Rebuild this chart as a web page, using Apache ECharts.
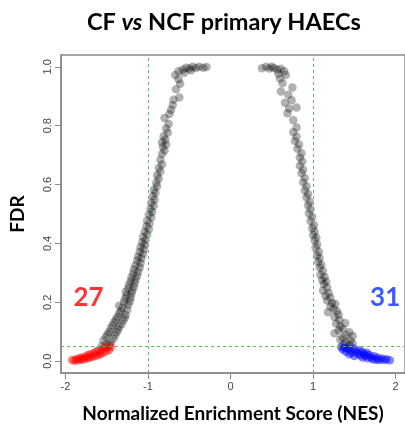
<!DOCTYPE html>
<html>
<head>
<meta charset="utf-8">
<script src="https://cdn.jsdelivr.net/npm/echarts@6/dist/echarts.min.js"></script>
<style>
  html, body { margin: 0; padding: 0; background: #fff; }
  #chart { width: 405px; height: 432px; }
</style>
</head>
<body>
<div id="chart"></div>
<script>
// NES / FDR, [NES, FDR]
var blackLeft = [
  [-1.56,0.052],[-1.50,0.058],[-1.47,0.054],[-1.54,0.07],[-1.45,0.064],[-1.51,0.082],[-1.42,0.076],[-1.49,0.092],
  [-1.40,0.088],[-1.47,0.1],[-1.38,0.098],[-1.45,0.112],[-1.36,0.108],[-1.43,0.122],[-1.35,0.118],
  [-1.41,0.132],[-1.32,0.126],[-1.39,0.142],[-1.30,0.138],[-1.37,0.15],[-1.28,0.148],[-1.35,0.162],[-1.27,0.158],
  [-1.33,0.17],[-1.25,0.175],[-1.31,0.182],[-1.35,0.188],[-1.24,0.192],[-1.29,0.2],[-1.22,0.204],
  [-1.28,0.212],[-1.21,0.216],[-1.26,0.224],[-1.20,0.23],[-1.27,0.236],[-1.19,0.24],[-1.24,0.248],[-1.17,0.252],
  [-1.23,0.26],[-1.16,0.266],[-1.21,0.272],[-1.15,0.278],[-1.20,0.285],[-1.13,0.29],[-1.18,0.298],
  [-1.12,0.304],[-1.17,0.312],[-1.10,0.318],[-1.15,0.326],[-1.09,0.334],[-1.13,0.342],[-1.08,0.35],[-1.12,0.356],
  [-1.06,0.364],[-1.10,0.372],[-1.05,0.38],[-1.09,0.388],[-1.04,0.396],
  [-1.07,0.404],[-1.03,0.412],[-1.06,0.422],[-1.01,0.43],[-1.04,0.44],[-0.99,0.448],[-1.02,0.458],[-0.98,0.468],
  [-1.01,0.478],[-0.96,0.488],[-0.99,0.498],
  [-0.95,0.508],[-0.97,0.518],[-0.93,0.528],[-0.96,0.538],[-0.92,0.548],[-0.94,0.56],[-0.91,0.572],[-0.93,0.582],[-0.89,0.594],
  [-0.90,0.606],[-0.87,0.62],[-0.89,0.632],[-0.85,0.644],[-0.87,0.656],[-0.83,0.668],[-0.85,0.684],
  [-0.83,0.704],[-0.80,0.716],[-0.82,0.728],[-0.78,0.736],[-0.83,0.744],[-0.79,0.752],[-0.81,0.764],[-0.76,0.776],[-0.78,0.79],
  [-0.75,0.806],[-0.80,0.826],[-0.74,0.84],[-0.72,0.854],[-0.70,0.87],[-0.69,0.888],[-0.62,0.896],
  [-0.66,0.924],[-0.61,0.942],[-0.63,0.958],[-0.67,0.972],[-0.63,0.985],[-0.58,0.99],[-0.54,0.997],[-0.50,0.994],
  [-0.46,1.0],[-0.42,0.996],[-0.38,1.0],[-0.33,0.997],[-0.29,0.999],[-0.56,0.98],[-0.48,0.988]
];
var blackRight = [
  [0.38,0.995],[0.43,1.0],[0.47,0.994],[0.50,1.0],[0.53,0.996],[0.57,0.99],[0.61,0.993],[0.65,0.985],[0.67,0.972],[0.58,0.976],
  [0.60,0.96],[0.63,0.944],[0.61,0.916],[0.75,0.93],[0.70,0.905],
  [0.66,0.878],[0.74,0.886],[0.71,0.858],[0.80,0.862],[0.69,0.842],[0.76,0.818],
  [0.80,0.794],[0.76,0.778],[0.80,0.762],[0.78,0.748],[0.83,0.736],[0.81,0.722],
  [0.86,0.706],[0.84,0.692],[0.87,0.678],[0.84,0.664],[0.88,0.65],[0.86,0.638],[0.90,0.622],[0.88,0.608],
  [0.92,0.594],[0.90,0.58],[0.94,0.568],[0.92,0.556],[0.96,0.542],[0.94,0.53],[0.97,0.516],
  [0.95,0.502],[0.99,0.49],[0.97,0.476],[1.01,0.462],[0.99,0.452],[1.02,0.44],[1.00,0.428],[1.04,0.42],[1.02,0.41],
  [1.05,0.396],[1.03,0.386],[1.07,0.372],[1.05,0.36],[1.08,0.35],[1.06,0.338],[1.10,0.328],[1.08,0.318],[1.12,0.306],
  [1.09,0.294],[1.14,0.286],[1.11,0.276],[1.16,0.27],[1.13,0.262],[1.17,0.25],[1.12,0.24],[1.19,0.232],[1.15,0.222],
  [1.21,0.216],[1.17,0.206],
  [1.23,0.198],[1.27,0.194],[1.21,0.186],[1.25,0.178],[1.29,0.17],[1.18,0.166],[1.31,0.158],[1.26,0.15],[1.32,0.14],
  [1.28,0.128],[1.39,0.13],[1.33,0.118],[1.36,0.11],[1.31,0.104],[1.44,0.098],[1.26,0.095],[1.40,0.09],[1.48,0.086],
  [1.36,0.08],[1.33,0.074],[1.45,0.07],[1.40,0.064],[1.48,0.06],[1.37,0.057],[1.44,0.054]
];
// significant, FDR < 0.05
var redDown = [
  [-1.92,0.004],[-1.89,0.002],[-1.87,0.007],[-1.85,0.003],[-1.83,0.01],[-1.81,0.005],[-1.80,0.013],[-1.78,0.007],
  [-1.76,0.015],[-1.74,0.009],[-1.73,0.02],[-1.71,0.012],[-1.70,0.024],[-1.68,0.015],[-1.66,0.027],[-1.65,0.017],
  [-1.63,0.032],[-1.61,0.02],[-1.60,0.036],[-1.58,0.024],[-1.56,0.041],[-1.55,0.028],[-1.53,0.045],[-1.51,0.033],
  [-1.49,0.047],[-1.47,0.038],[-1.45,0.048]
];
var blueUp = [
  [1.34,0.048],[1.36,0.04],[1.38,0.046],[1.40,0.032],[1.42,0.044],[1.44,0.024],[1.45,0.038],[1.47,0.03],[1.49,0.043],
  [1.50,0.018],[1.52,0.033],[1.54,0.026],[1.56,0.037],[1.57,0.02],[1.59,0.031],[1.60,0.013],[1.62,0.025],[1.63,0.018],
  [1.65,0.029],[1.66,0.01],[1.68,0.021],[1.70,0.014],[1.72,0.007],[1.74,0.017],[1.76,0.005],[1.78,0.012],[1.80,0.004],
  [1.83,0.009],[1.86,0.004],[1.89,0.007],[1.93,0.003]
];
var xTicks = [-2, -1, 0, 1, 2];
var yTicks = [0, 0.2, 0.4, 0.6, 0.8, 1.0];
var nesCut = [-1, 1];
var fdrCut = 0.05;

var axisGray = '#8a8a8a';
var chart = echarts.init(document.getElementById('chart'));

function countLabel(x, y, n, color) {
  return {
    type: 'scatter',
    data: [[x, y]],
    symbolSize: 0,
    silent: true,
    z: 5,
    label: {
      show: true, position: 'inside',
      formatter: String(n),
      color: color, fontFamily: 'Lato', fontWeight: 'bold', fontSize: 26
    }
  };
}

chart.setOption({
  animation: false,
  title: {
    text: '{a|CF }{b|vs}{a| NCF primary HAECs}',
    left: 82, top: 5,
    textStyle: {
      rich: {
        a: { fontFamily: 'Lato', fontWeight: 'bold', fontSize: 23.5, color: '#000' },
        b: { fontFamily: 'Lato', fontWeight: 'bold', fontStyle: 'italic', fontSize: 23.5, color: '#000' }
      }
    }
  },
  grid: {
    left: 60, top: 55, right: -3, bottom: 59,
    show: true, borderColor: axisGray, borderWidth: 1.5, backgroundColor: 'transparent'
  },
  xAxis: {
    type: 'value', min: -2.054, max: 2.114,
    name: 'Normalized Enrichment Score (NES)',
    nameLocation: 'middle', nameGap: 31,
    nameTextStyle: { fontFamily: 'Lato', fontWeight: 'bold', fontSize: 19, color: '#000' },
    axisLine: { show: true, onZero: false, lineStyle: { color: axisGray, width: 1.5 } },
    axisTick: { show: true, length: 6, customValues: xTicks, lineStyle: { color: axisGray } },
    axisLabel: { customValues: xTicks, fontFamily: 'Liberation Sans', fontSize: 11, color: '#444', margin: 8 },
    splitLine: { show: false }
  },
  yAxis: {
    type: 'value', min: -0.04, max: 1.04,
    name: 'FDR',
    nameLocation: 'middle', nameGap: 34, nameRotate: 90,
    nameTextStyle: { fontFamily: 'Lato', fontWeight: 'bold', fontSize: 19, color: '#000' },
    axisLine: { show: true, onZero: false, lineStyle: { color: axisGray, width: 1.5 } },
    axisTick: { show: true, length: 6, customValues: yTicks, lineStyle: { color: axisGray } },
    axisLabel: {
      customValues: yTicks, rotate: 90, fontFamily: 'Liberation Sans', fontSize: 11, color: '#444', margin: 8,
      formatter: function (v) { return v.toFixed(1); }
    },
    splitLine: { show: false }
  },
  series: [
    {
      type: 'scatter',
      data: blackLeft.concat(blackRight),
      symbolSize: 8.5,
      itemStyle: { color: 'rgba(0,0,0,0.38)' },
      markLine: {
        silent: true, symbol: 'none', label: { show: false },
        lineStyle: { color: '#5fb85f', type: [3, 3], width: 1 },
        data: [{ xAxis: nesCut[0] }, { xAxis: nesCut[1] }, { yAxis: fdrCut }]
      }
    },
    {
      type: 'scatter', data: redDown, symbolSize: 8.5,
      itemStyle: { color: 'rgba(255,0,0,0.6)' }
    },
    {
      type: 'scatter', data: blueUp, symbolSize: 8.5,
      itemStyle: { color: 'rgba(0,0,255,0.6)' }
    },
    countLabel(-1.72, 0.217, redDown.length, '#ff0000'),
    countLabel(1.874, 0.217, blueUp.length, '#0a32ff')
  ]
});
</script>
</body>
</html>
